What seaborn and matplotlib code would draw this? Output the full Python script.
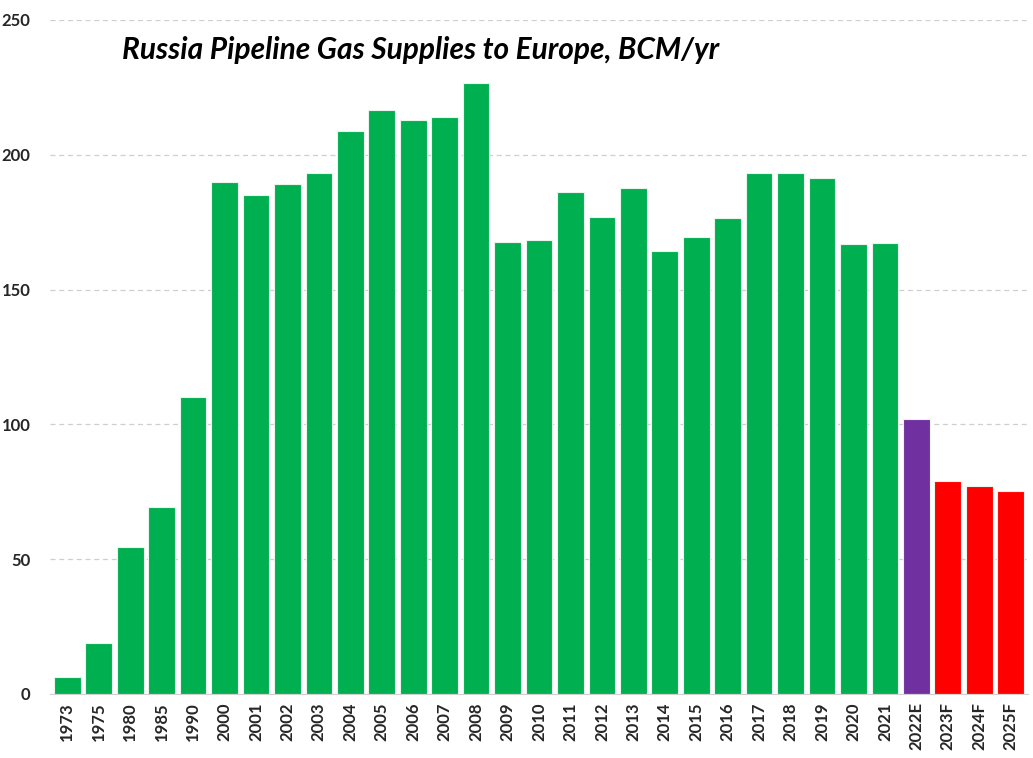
import matplotlib
matplotlib.use("Agg")
import matplotlib.pyplot as plt
import seaborn as sns
import pandas as pd

# Russia pipeline gas supplies to Europe, BCM/yr
years = ["1973", "1975", "1980", "1985", "1990", "2000", "2001", "2002", "2003",
         "2004", "2005", "2006", "2007", "2008", "2009", "2010", "2011", "2012",
         "2013", "2014", "2015", "2016", "2017", "2018", "2019", "2020", "2021",
         "2022E", "2023F", "2024F", "2025F"]
supplies = [6.2, 19, 54.4, 69.3, 110, 190, 185, 189, 193.4,
            209, 216.5, 213, 214.2, 226.5, 167.5, 168.3, 186.2, 177,
            187.5, 164.2, 169.4, 176.6, 193.3, 193.3, 191.5, 167, 167.2,
            102, 79, 77, 75.2]
kind = ["hist"] * 27 + ["estimate"] + ["forecast"] * 3
kind_colors = {"hist": "#00B050", "estimate": "#7030A0", "forecast": "#FF0000"}

df = pd.DataFrame({"year": years, "bcm": supplies, "kind": kind})

sns.set_style("white")
plt.rcParams["font.family"] = ["Lato", "DejaVu Sans"]

fig = plt.figure(figsize=(10.33, 7.58), dpi=100)
ax = fig.add_axes([50 / 1033, 64 / 758, 978 / 1033, 674 / 758])

sns.barplot(data=df, x="year", y="bcm", hue="year",
            palette=[kind_colors[k] for k in kind], legend=False, saturation=1,
            width=0.85, edgecolor="#e8f5ec", linewidth=0.8, ax=ax, zorder=3)

ax.set_ylim(0, 250)
ax.set_xlim(-0.55, len(years) - 0.45)
ax.set_yticks(range(0, 251, 50))
ax.yaxis.grid(True, linestyle=(0, (4, 3)), color="#cfcfcf", linewidth=0.9, zorder=0)
ax.xaxis.grid(False)
for s in ["top", "right", "left"]:
    ax.spines[s].set_visible(False)
ax.spines["bottom"].set_color("#d0d0d0")
ax.spines["bottom"].set_zorder(4)
ax.tick_params(axis="y", length=0, pad=14, labelsize=12)
ax.tick_params(axis="x", length=0, pad=6, labelsize=12, rotation=90)
for lab in ax.get_xticklabels() + ax.get_yticklabels():
    lab.set_fontweight("bold")
ax.set_xlabel("")
ax.set_ylabel("")

ax.text(0.379, 0.955, "Russia Pipeline Gas Supplies to Europe, BCM/yr",
        transform=ax.transAxes, ha="center", va="center",
        fontsize=21.5, fontweight="bold", fontstyle="italic", color="black")

fig.savefig("out.png", dpi=100)
